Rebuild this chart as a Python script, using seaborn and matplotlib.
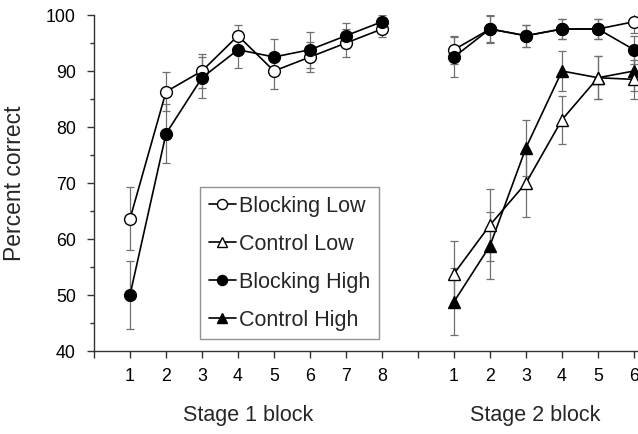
import numpy as np
import pandas as pd
import matplotlib
matplotlib.use('Agg')
import matplotlib.pyplot as plt
from matplotlib.ticker import MultipleLocator
import seaborn as sns

# data
stage1_blocks = [1, 2, 3, 4, 5, 6, 7, 8]
stage2_blocks = [1, 2, 3, 4, 5, 6]
stage2_offset = 9  # stage 2 block n sits at x = n + 9

s1_block_low = [63.6, 86.3, 90.0, 96.3, 90.0, 92.5, 95.0, 97.5]
s1_block_low_err = [5.6, 3.5, 3.0, 2.0, 3.2, 2.7, 2.5, 1.5]
s1_block_high = [50.0, 78.8, 88.8, 93.8, 92.5, 93.8, 96.3, 98.8]
s1_block_high_err = [6.0, 5.3, 3.7, 3.3, 3.3, 3.2, 2.2, 1.2]

s2_block_low = [93.8, 97.5, 96.3, 97.5, 97.5, 98.8]
s2_block_low_err = [2.5, 2.3, 2.0, 1.8, 1.8, 2.0]
s2_block_high = [92.5, 97.5, 96.3, 97.5, 97.5, 93.8]
s2_block_high_err = [3.5, 2.5, 2.0, 1.8, 1.8, 2.5]
s2_ctrl_low = [53.8, 62.5, 70.0, 81.3, 88.8, 88.5]
s2_ctrl_low_err = [5.8, 6.5, 6.0, 4.3, 3.8, 3.5]
s2_ctrl_high = [48.8, 58.8, 76.3, 90.0, 88.8, 90.0]
s2_ctrl_high_err = [6.0, 6.0, 5.0, 3.6, 3.8, 3.5]

xtick_labels = ['', '1', '2', '3', '4', '5', '6', '7', '8', '', '1', '2', '3', '4', '5', '6']

sns.set_style('ticks')
plt.rcParams['font.family'] = ['Liberation Sans', 'DejaVu Sans']

fig = plt.figure(figsize=(6.38, 4.34), dpi=100)
ax = fig.add_axes([94 / 638, 83 / 434, 544 / 638, 336 / 434])

s2_x = [b + stage2_offset for b in stage2_blocks]

series = [
    # label, x, y, err, marker, face, zorder
    ('Blocking Low', stage1_blocks, s1_block_low, s1_block_low_err, 'o', 'white', 3),
    ('Blocking High', stage1_blocks, s1_block_high, s1_block_high_err, 'o', 'black', 4),
    ('Blocking Low', s2_x, s2_block_low, s2_block_low_err, 'o', 'white', 3),
    ('Blocking High', s2_x, s2_block_high, s2_block_high_err, 'o', 'black', 4),
    ('Control High', s2_x, s2_ctrl_high, s2_ctrl_high_err, '^', 'black', 3),
    ('Control Low', s2_x, s2_ctrl_low, s2_ctrl_low_err, '^', 'white', 4),
]

handles = {}
for label, xs, ys, errs, mk, face, z in series:
    ax.errorbar(xs, ys, yerr=errs, fmt='none', ecolor='#707070',
                elinewidth=0.9, capsize=2.8, capthick=0.9, zorder=1)
    df = pd.DataFrame({'x': xs, 'y': ys})
    sns.lineplot(data=df, x='x', y='y', ax=ax, color='black', linewidth=1.2,
                 marker=mk, markersize=8.5 if mk == 'o' else 9,
                 markerfacecolor=face, markeredgecolor='black',
                 markeredgewidth=1.0, zorder=z, legend=False)
    handles[label] = ax.lines[-1]

order = ['Blocking Low', 'Control Low', 'Blocking High', 'Control High']
leg = ax.legend([handles[k] for k in order], order, loc='upper left',
                bbox_to_anchor=(0.195, 0.488), borderaxespad=0, fontsize=15.5,
                frameon=True, fancybox=False, edgecolor='#777777',
                handlelength=1.26, handletextpad=0.15, labelspacing=0.79,
                borderpad=0.4, markerscale=0.85)
leg.get_frame().set_linewidth(1.0)

ax.set_xlim(0, 544 / 36)
ax.set_ylim(40, 100)
ax.set_xticks(np.arange(0, 16))
ax.set_xticklabels(xtick_labels)
ax.yaxis.set_major_locator(MultipleLocator(10))
ax.yaxis.set_minor_locator(MultipleLocator(5))
ax.tick_params(axis='both', which='major', labelsize=12.8, length=5, width=1,
               color='#333333', labelcolor='black', direction='out')
ax.tick_params(axis='y', which='minor', length=3, width=1, color='#333333')
ax.tick_params(axis='x', pad=7)
ax.tick_params(axis='y', pad=8)
sns.despine(ax=ax)
for s in ['left', 'bottom']:
    ax.spines[s].set_color('#333333')
    ax.spines[s].set_linewidth(1.0)

ax.set_xlabel('')
ax.set_ylabel('Percent correct', fontsize=16.5)
ax.yaxis.set_label_coords(-0.125, 0.5)
ax.text(4.28, -0.193, 'Stage 1 block', transform=ax.get_xaxis_transform(),
        ha='center', va='center', fontsize=15.5)
ax.text(12.25, -0.193, 'Stage 2 block', transform=ax.get_xaxis_transform(),
        ha='center', va='center', fontsize=15.5)

fig.savefig('out.png', dpi=100)
